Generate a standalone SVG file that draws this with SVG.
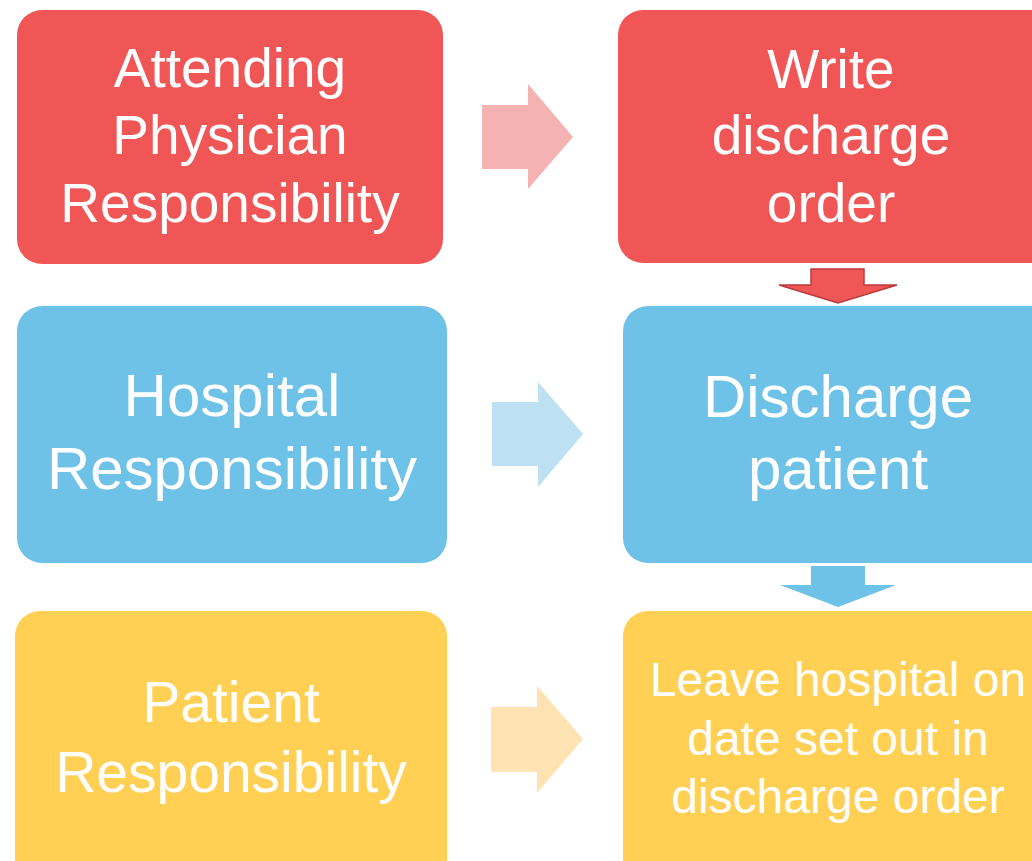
<svg xmlns="http://www.w3.org/2000/svg" width="1032" height="861" viewBox="0 0 1032 861">
  <style>
    .lbl { font-family: "Liberation Sans", Arial, sans-serif; fill: #ffffff; text-anchor: middle; }
    .red { fill: #F05656; }
    .blue { fill: #6EC2E8; }
    .yellow { fill: #FFD054; }
  </style>
  <rect width="1032" height="861" fill="#ffffff"/>

  <!-- connectors -->
  <g id="connectors">
    <!-- horizontal arrows: role to action -->
    <polygon id="arrow-attending" points="482,105 528,105 528,84 573,137 528,189 528,169 482,169" fill="#F5B2B2"/>
    <polygon id="arrow-hospital" points="492,402 538,402 538,382 583,434 538,487 538,466 492,466" fill="#BDE0F3"/>
    <polygon id="arrow-patient" points="491,707 537,707 537,686 583,739 537,793 537,772 491,772" fill="#FFE3B2"/>
    <!-- vertical arrows: action to next action -->
    <polygon id="arrow-write-discharge" points="811,269 864,269 864,285 897,285 838,303 779,285 811,285" fill="#F05656" stroke="#B93B3B" stroke-width="1.5" stroke-linejoin="miter"/>
    <polygon id="arrow-discharge-leave" points="811,566 865,566 865,585 896,585 838,607 780,585 811,585" fill="#6EC2E8"/>
  </g>

  <!-- left column: responsibilities -->
  <g id="node-attending">
    <rect class="red" x="17" y="10" width="426" height="254" rx="25"/>
    <text class="lbl" font-size="55" x="230" y="87">Attending</text>
    <text class="lbl" font-size="55" x="230" y="154">Physician</text>
    <text class="lbl" font-size="55" x="230" y="222">Responsibility</text>
  </g>
  <g id="node-hospital">
    <rect class="blue" x="17" y="306" width="430" height="257" rx="25"/>
    <text class="lbl" font-size="60" x="232" y="416">Hospital</text>
    <text class="lbl" font-size="60" x="232" y="489">Responsibility</text>
  </g>
  <g id="node-patient">
    <rect class="yellow" x="15" y="611" width="432" height="280" rx="25"/>
    <text class="lbl" font-size="57" x="231" y="722">Patient</text>
    <text class="lbl" font-size="57" x="231" y="792">Responsibility</text>
  </g>

  <!-- right column: actions -->
  <g id="node-write">
    <rect class="red" x="618" y="10" width="440" height="253" rx="25"/>
    <text class="lbl" font-size="55" x="831" y="88">Write</text>
    <text class="lbl" font-size="55" x="831" y="154">discharge</text>
    <text class="lbl" font-size="55" x="831" y="222">order</text>
  </g>
  <g id="node-discharge">
    <rect class="blue" x="623" y="306" width="440" height="257" rx="25"/>
    <text class="lbl" font-size="60" x="838" y="417">Discharge</text>
    <text class="lbl" font-size="60" x="838" y="489">patient</text>
  </g>
  <g id="node-leave">
    <rect class="yellow" x="623" y="611" width="440" height="280" rx="25"/>
    <text class="lbl" font-size="48" x="838" y="696">Leave hospital on</text>
    <text class="lbl" font-size="48" x="838" y="755">date set out in</text>
    <text class="lbl" font-size="48" x="838" y="813">discharge order</text>
  </g>
</svg>
